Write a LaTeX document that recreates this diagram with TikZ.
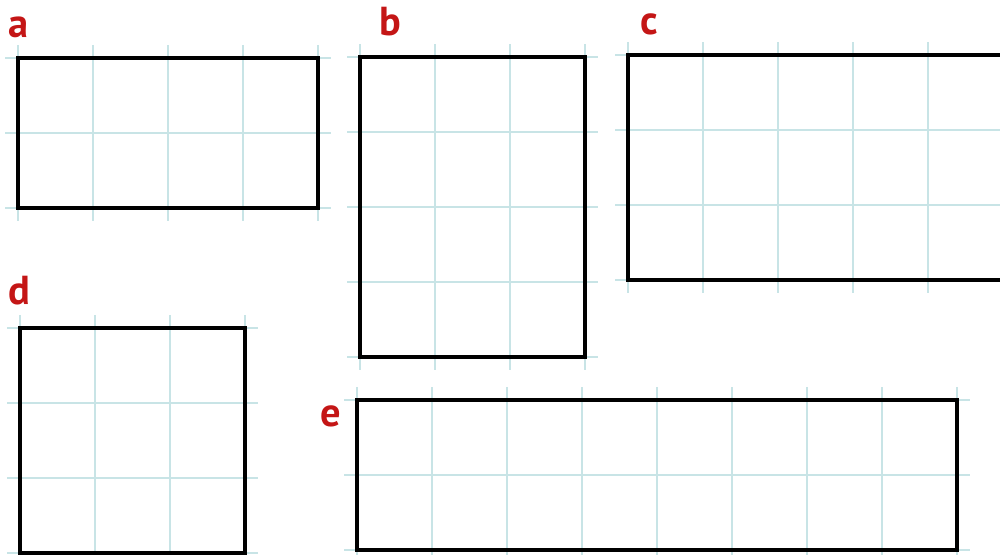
\documentclass[tikz,border=0pt]{standalone}
\usepackage{fontspec}
\setsansfont{PT Sans}
\definecolor{gridblue}{RGB}{200,228,230}
\definecolor{labelred}{RGB}{196,22,22}

\begin{document}
\begin{tikzpicture}[x=0.01cm,y=-0.01cm,
  gridline/.style={gridblue,line width=0.35pt},
  frame/.style={black,line width=1pt},
  tag/.style={labelred,font=\sffamily\bfseries\fontsize{11.5}{12}\selectfont,inner sep=0pt,anchor=base west}]
\useasboundingbox (0,0) rectangle (1000,555);
% corner x, corner y, columns, rows, letter, letter x, letter y
\foreach \x/\y/\c/\r/\n/\lx/\ly in {18/58/4/2/a/8/38, 360/57/3/4/b/379/36, 628/55/5/3/c/640/35, 20/328/3/3/d/8/305, 357/400/8/2/e/320/427}{
  \foreach \i in {0,...,\c}
    \draw[gridline] (\x+75*\i,\y-13) -- (\x+75*\i,\y+75*\r+13);
  \foreach \j in {0,...,\r}
    \draw[gridline] (\x-13,\y+75*\j) -- (\x+75*\c+13,\y+75*\j);
  \draw[frame] (\x,\y) rectangle ++(75*\c,75*\r);
  \node[tag] (lab-\n) at (\lx,\ly) {\n};
}
\end{tikzpicture}
\end{document}
